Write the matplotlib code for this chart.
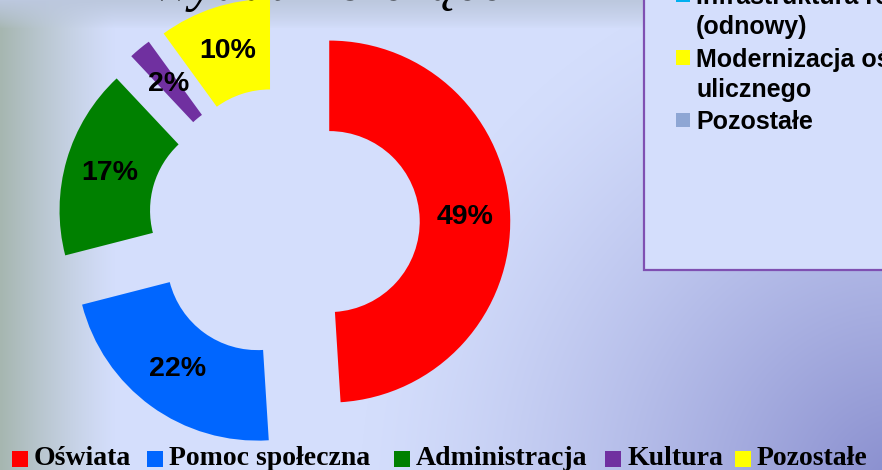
import numpy as np
import matplotlib
matplotlib.use("Agg")
import matplotlib.pyplot as plt
from matplotlib.patches import Rectangle

# ---------------- data ----------------
categories = ["Oświata", "Pomoc społeczna", "Administracja", "Kultura", "Pozostałe"]
values = [49, 22, 17, 2, 10]
colors = ["#FF0000", "#0066FF", "#008000", "#7030A0", "#FFFF00"]
title = "Wydatki bieżące"
box_entries = [["Infrastruktura rekreacyjna", "(odnowy)"],
               ["Modernizacja oświetlenia", "ulicznego"],
               ["Pozostałe"]]
box_colors = ["#00B0F0", "#FFFF00", "#8EA6D4"]

# ---------------- layout / style ----------------
W, H = 882, 470
EXPLODE = 0.25
fig = plt.figure(figsize=(W / 100, H / 100), dpi=100)


def fx(x):
    return x / W


def fy(y):
    return 1 - y / H


# background gradient (slide decoration)
yy, xx = np.mgrid[0:H, 0:W].astype(float)
base = np.array([212, 222, 252]) / 255
img = np.ones((H, W, 3)) * base
d = np.hypot(xx - 900, yy - 490)
t = np.clip(1 - d / 540, 0, 1) ** 1.3
dark = np.array([135, 140, 205]) / 255
img = img * (1 - t[..., None]) + dark * t[..., None]
lft = np.clip(1 - xx / 115, 0, 1) ** 1.2
gray = np.array([166, 182, 176]) / 255
img = img * (1 - lft[..., None]) + gray * lft[..., None]
tp = np.clip(1 - yy / 28, 0, 1) ** 0.8
topc = np.array([188, 200, 222]) / 255
img = img * (1 - tp[..., None]) + topc * tp[..., None]

bg = fig.add_axes([0, 0, 1, 1], zorder=0)
bg.imshow(img, aspect="auto", extent=(0, 1, 0, 1), origin="upper")
bg.set_xlim(0, 1)
bg.set_ylim(0, 1)
bg.axis("off")

# ---------------- donut ----------------
ax = fig.add_axes([0, 0, 1, 1], zorder=1)
ax.patch.set_alpha(0)
wedges, texts, autotexts = ax.pie(
    values, colors=colors, startangle=90, counterclock=False,
    explode=[EXPLODE] * len(values), radius=1.0, pctdistance=0.75,
    autopct=lambda p: f"{p:.0f}%",
    wedgeprops=dict(width=0.5, linewidth=0),
    textprops=dict(fontsize=20.5, fontweight="bold", family="Liberation Sans", color="black"),
)
scale = 181.0
cx, cy = 284.0, 223.0
ax.set_aspect("auto")
ax.set_xlim(-cx / scale, (W - cx) / scale)
ax.set_ylim((cy - H) / scale, cy / scale)
ax.axis("off")

# ---------------- title (mostly cut off at the top) ----------------
fig.text(fx(327), fy(0.5), title, ha="center", va="baseline", fontsize=40,
         family="Liberation Serif", style="italic", color="black", zorder=3)

# ---------------- right legend box ----------------
fig.patches.append(Rectangle((fx(644), fy(270)), fx(300), 270 / H + 0.05,
                             transform=fig.transFigure, facecolor="#D4DEFC",
                             edgecolor="#7F50B2", linewidth=1.6, zorder=2))
baseline = 4.0
for lines, col in zip(box_entries, box_colors):
    fig.patches.append(Rectangle((fx(676), fy(baseline - 2)), 14 / W, 14 / H,
                                 transform=fig.transFigure, facecolor=col,
                                 edgecolor="none", zorder=3))
    for ln in lines:
        fig.text(fx(696), fy(baseline), ln, ha="left", va="baseline", fontsize=18,
                 fontweight="bold", family="Liberation Sans", color="black", zorder=4)
        baseline += 30
    baseline += 2.5

# ---------------- bottom legend ----------------
txt_x = [34, 169, 416, 627, 757]
for name, col, tx in zip(categories, colors, txt_x):
    fig.patches.append(Rectangle((fx(tx - 22), fy(467)), 16 / W, 16 / H,
                                 transform=fig.transFigure, facecolor=col,
                                 edgecolor="none", zorder=3))
    fig.text(fx(tx), fy(465), name, ha="left", va="baseline", fontsize=20,
             fontweight="bold", family="Liberation Serif", color="black", zorder=4)

fig.savefig("out.png", dpi=100)
